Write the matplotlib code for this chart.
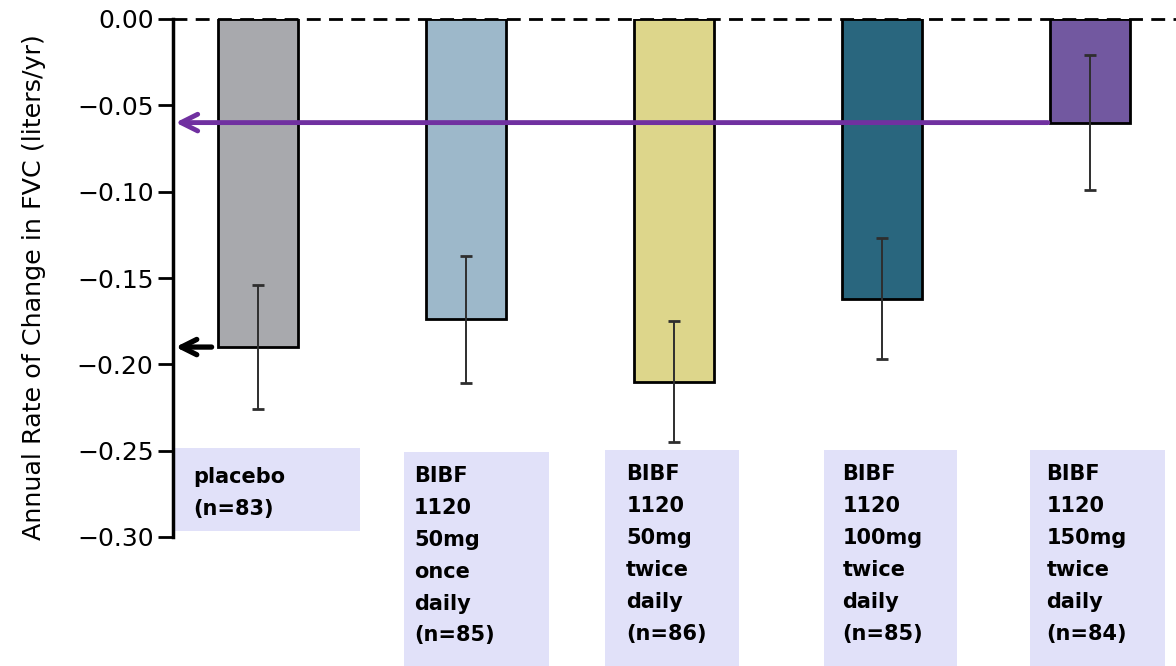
import matplotlib
matplotlib.use("Agg")
import matplotlib.pyplot as plt
from matplotlib.patches import Rectangle

# Annual rate of change in FVC by treatment group
groups = ["placebo\n(n=83)",
          "BIBF\n1120\n50mg\nonce\ndaily\n(n=85)",
          "BIBF\n1120\n50mg\ntwice\ndaily\n(n=86)",
          "BIBF\n1120\n100mg\ntwice\ndaily\n(n=85)",
          "BIBF\n1120\n150mg\ntwice\ndaily\n(n=84)"]
rates = [-0.190, -0.174, -0.210, -0.162, -0.060]
errors = [0.036, 0.037, 0.035, 0.035, 0.039]
colors = ["#A8A9AD", "#9DB8CA", "#DDD68B", "#29667E", "#7258A0"]
yticks = [0.00, -0.05, -0.10, -0.15, -0.20, -0.25, -0.30]

W, H = 1176, 666
fig = plt.figure(figsize=(W / 100, H / 100), dpi=100)
ax = fig.add_axes([173 / W, 1 - 537 / H, 1 - 173 / W, (537 - 19) / H])

x = list(range(len(rates)))
ax.bar(x, rates, width=0.385, color=colors, edgecolor="black", linewidth=2, zorder=2)
ax.errorbar(x, rates, yerr=errors, fmt="none", ecolor="#2E2E2E",
            elinewidth=1.4, capsize=4, capthick=2, zorder=3)

ax.set_xlim(-0.409, 4.413)
ax.set_ylim(-0.30, 0.0)
ax.set_yticks(yticks)
ax.set_yticklabels([f"{v:.2f}".replace("-", "\u2212") for v in yticks])
ax.tick_params(axis="y", length=11, width=2, labelsize=18, pad=3)
ax.set_xticks([])
for side in ["top", "right", "bottom"]:
    ax.spines[side].set_visible(False)
ax.spines["left"].set_linewidth(2.5)

ax.axhline(0.0, color="black", linestyle=(0, (5, 3)), linewidth=2, clip_on=False, zorder=1)
ax.set_ylabel("Annual Rate of Change in FVC (liters/yr)", fontsize=18.3)
ax.yaxis.set_label_coords(-0.127, 0.482)

# Arrows pointing back to the axis
ax.annotate("", xy=(-0.41, rates[4]), xytext=(4 - 0.19, rates[4]),
            arrowprops=dict(arrowstyle="->,head_length=1.2,head_width=0.6",
                            color="#7030A0", lw=3.5), zorder=4)
ax.annotate("", xy=(-0.41, rates[0]), xytext=(-0.21, rates[0]),
            arrowprops=dict(arrowstyle="->,head_length=1.1,head_width=0.55",
                            color="black", lw=3.8), zorder=4)

# Group label boxes under the bars
box_left = [-0.40, -0.30, -0.33, -0.28, -0.29]
box_width = [0.89, 0.70, 0.64, 0.64, 0.65]
box_top = [-0.2484, -0.2505, -0.2495, -0.2495, -0.2495]
box_bottom = [-0.2965, -0.38, -0.38, -0.38, -0.38]
text_dx = [0.09, 0.05, 0.10, 0.09, 0.08]
text_dy = [0.011, 0.0085, 0.0085, 0.0085, 0.0085]
for i, label in enumerate(groups):
    ax.add_patch(Rectangle((i + box_left[i], box_bottom[i]), box_width[i],
                           box_top[i] - box_bottom[i], facecolor="#E1E1F9",
                           edgecolor="none", clip_on=False, zorder=0))
    ax.text(i + box_left[i] + text_dx[i], box_top[i] - text_dy[i], label,
            ha="left", va="top", fontsize=15, fontweight="bold",
            linespacing=1.74, clip_on=False, zorder=1)

fig.savefig("out.png", dpi=100)
